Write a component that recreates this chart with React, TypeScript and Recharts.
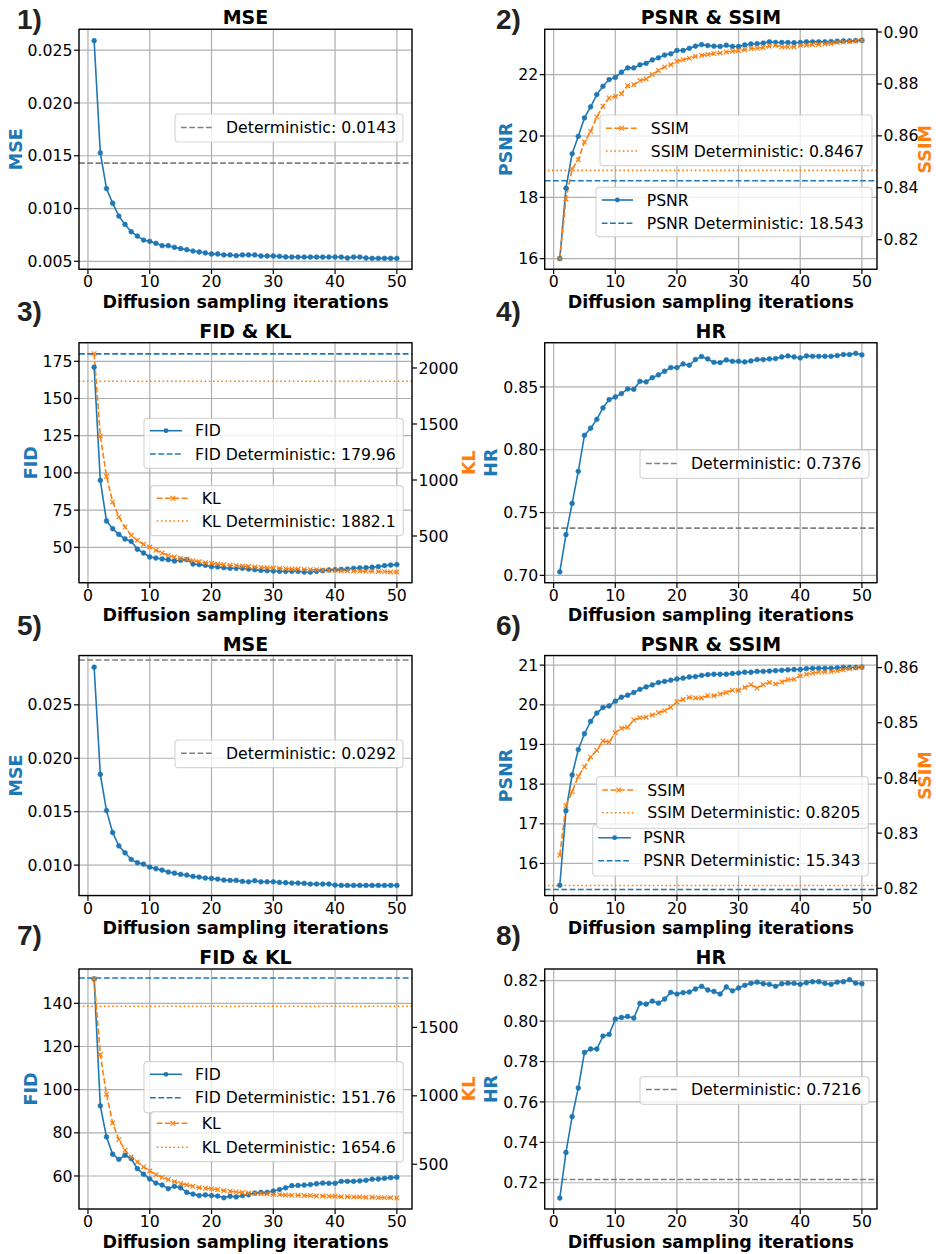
import React from 'react';
import { LineChart, Line, XAxis, YAxis, CartesianGrid, ReferenceLine } from 'recharts';

const BLUE = '#1f77b4';
const ORANGE = '#ff7f0e';
const GRAY = '#808080';
const FONT = '"DejaVu Sans", Verdana, sans-serif';
const DASH = '5.8 2.5';
const DOT = '1.6 2.6';

// x values shared by every panel
const iterations = [1, 2, 3, 4, 5, 6, 7, 8, 9, 10, 11, 12, 13, 14, 15, 16, 17, 18, 19, 20, 21, 22, 23, 24, 25,
  26, 27, 28, 29, 30, 31, 32, 33, 34, 35, 36, 37, 38, 39, 40, 41, 42, 43, 44, 45, 46, 47, 48, 49, 50];
const xTicks = [0, 10, 20, 30, 40, 50];

// 1) MSE
const mse1 = [0.0259, 0.01528, 0.01189, 0.0105, 0.00928, 0.00849, 0.0078, 0.00739, 0.00701, 0.00689,
  0.0067, 0.00648, 0.00648, 0.00632, 0.0062, 0.0061, 0.00597, 0.00588, 0.00579, 0.00569,
  0.00569, 0.0056, 0.0056, 0.00553, 0.0056, 0.0056, 0.0056, 0.0055, 0.0055, 0.0055,
  0.00547, 0.00541, 0.0054, 0.0054, 0.0054, 0.0054, 0.0054, 0.0054, 0.0054, 0.0054,
  0.0054, 0.00531, 0.0054, 0.0054, 0.00531, 0.00528, 0.00528, 0.00528, 0.00528, 0.00528];
const mseDet1 = 0.0143;

// 2) PSNR & SSIM
const psnr2 = [16.0, 18.3, 19.42, 19.99, 20.59, 20.95, 21.35, 21.62, 21.84, 21.91,
  22.08, 22.22, 22.22, 22.32, 22.37, 22.48, 22.55, 22.64, 22.68, 22.79,
  22.79, 22.86, 22.93, 22.98, 22.95, 22.93, 22.92, 22.96, 22.92, 22.92,
  22.97, 23.0, 23.01, 23.03, 23.07, 23.05, 23.05, 23.05, 23.04, 23.05,
  23.07, 23.07, 23.07, 23.07, 23.08, 23.09, 23.1, 23.1, 23.11, 23.12];
const ssim2 = [0.8127, 0.8357, 0.8472, 0.8508, 0.8576, 0.8617, 0.8673, 0.8714, 0.8746, 0.8752,
  0.8762, 0.8793, 0.8797, 0.8813, 0.8819, 0.8836, 0.8852, 0.8865, 0.8874, 0.8887,
  0.8893, 0.8899, 0.8906, 0.891, 0.8913, 0.8917, 0.8919, 0.8923, 0.8926, 0.8928,
  0.8932, 0.8936, 0.8937, 0.894, 0.8945, 0.8949, 0.8942, 0.8942, 0.8942, 0.8949,
  0.8949, 0.8951, 0.8952, 0.8954, 0.8956, 0.896, 0.8961, 0.8964, 0.8965, 0.8968];
const psnrDet2 = 18.543;
const ssimDet2 = 0.8467;

// 3) FID & KL
const fid3 = [171, 95, 67.7, 62.5, 58.7, 55.6, 54.0, 48.7, 46.2, 43.5,
  42.8, 42.2, 41.7, 40.8, 41.3, 41.7, 38.8, 38.4, 37.9, 37.0,
  36.8, 36.3, 35.9, 35.9, 35.9, 35.4, 35.0, 34.5, 34.3, 34.1,
  33.9, 33.9, 33.9, 33.9, 33.4, 33.4, 33.9, 34.3, 34.8, 35.0,
  35.2, 35.4, 35.9, 36.1, 36.3, 36.6, 37.0, 37.7, 38.1, 38.4];
const kl3 = [2128, 1393, 1033, 804, 670, 580, 506, 461, 426, 402,
  372, 348, 327, 312, 301, 292, 280, 271, 262, 256,
  250, 244, 238, 235, 232, 229, 223, 220, 217, 214,
  211, 208, 205, 205, 202, 199, 199, 196, 193, 193,
  190, 190, 187, 187, 184, 184, 182, 182, 179, 179];
const fidDet3 = 179.96;
const klDet3 = 1882.1;

// 4) HR
const hr4 = [0.7027, 0.7324, 0.7573, 0.7828, 0.8115, 0.8171, 0.8242, 0.8333, 0.8399, 0.842,
  0.8447, 0.8484, 0.8481, 0.8545, 0.854, 0.8574, 0.8596, 0.8625, 0.8654, 0.8654,
  0.8683, 0.8673, 0.8718, 0.8742, 0.8723, 0.8696, 0.8694, 0.8715, 0.8704, 0.8704,
  0.8699, 0.8707, 0.8718, 0.8718, 0.8723, 0.8726, 0.8739, 0.8747, 0.8739, 0.8731,
  0.8747, 0.8744, 0.8744, 0.8744, 0.8744, 0.875, 0.8758, 0.8758, 0.8768, 0.8755];
const hrDet4 = 0.7376;

// 5) MSE
const mse5 = [0.02852, 0.0185, 0.0151, 0.01305, 0.0118, 0.01115, 0.01053, 0.01022, 0.01009, 0.00981,
  0.00966, 0.00953, 0.00935, 0.00925, 0.00913, 0.00907, 0.00894, 0.00888, 0.00879, 0.00875,
  0.00869, 0.0086, 0.00857, 0.00857, 0.00847, 0.00844, 0.00854, 0.00844, 0.00844, 0.00844,
  0.00838, 0.00835, 0.00832, 0.00832, 0.00829, 0.00823, 0.00823, 0.00823, 0.00823, 0.00813,
  0.0081, 0.0081, 0.0081, 0.0081, 0.0081, 0.0081, 0.0081, 0.0081, 0.0081, 0.0081];
const mseDet5 = 0.0292;

// 6) PSNR & SSIM
const psnr6 = [15.45, 17.33, 18.23, 18.87, 19.27, 19.58, 19.79, 19.93, 19.97, 20.09,
  20.19, 20.24, 20.31, 20.39, 20.45, 20.5, 20.56, 20.59, 20.62, 20.65,
  20.67, 20.7, 20.71, 20.74, 20.76, 20.77, 20.77, 20.77, 20.79, 20.8,
  20.82, 20.82, 20.84, 20.84, 20.85, 20.86, 20.87, 20.88, 20.89, 20.89,
  20.91, 20.92, 20.92, 20.92, 20.92, 20.93, 20.94, 20.94, 20.94, 20.95];
const ssim6 = [0.826, 0.835, 0.8375, 0.8403, 0.842, 0.8438, 0.845, 0.8467, 0.8465, 0.8482,
  0.849, 0.8492, 0.8505, 0.8509, 0.851, 0.8514, 0.8518, 0.8522, 0.8528, 0.8538,
  0.8542, 0.8546, 0.8545, 0.8545, 0.8549, 0.8549, 0.8552, 0.8555, 0.8559, 0.8559,
  0.8564, 0.8569, 0.8563, 0.8569, 0.8573, 0.857, 0.8574, 0.8578, 0.8579, 0.8585,
  0.8588, 0.859, 0.8592, 0.8592, 0.8593, 0.8594, 0.8596, 0.8598, 0.8599, 0.8601];
const psnrDet6 = 15.343;
const ssimDet6 = 0.8205;

// 7) FID & KL
const fid7 = [151.3, 92.5, 78.1, 70.1, 67.7, 69.6, 68.0, 63.4, 60.8, 58.6,
  56.7, 55.8, 54.1, 55.2, 54.5, 52.4, 51.6, 50.9, 51.2, 50.9,
  50.7, 49.9, 50.6, 50.3, 50.9, 51.3, 52.1, 52.4, 52.4, 53.0,
  53.7, 54.5, 55.5, 55.6, 55.8, 56.0, 56.4, 56.7, 56.6, 56.6,
  57.5, 57.5, 57.5, 57.7, 58.0, 58.5, 58.6, 58.9, 59.2, 59.4];
const kl7 = [1854, 1302, 1012, 802, 680, 602, 554, 517, 480, 451,
  424, 405, 388, 373, 359, 349, 339, 329, 324, 320,
  315, 307, 302, 298, 293, 290, 288, 285, 283, 280,
  278, 276, 273, 273, 271, 271, 268, 268, 266, 266,
  263, 263, 261, 261, 259, 259, 256, 256, 256, 254];
const fidDet7 = 151.76;
const klDet7 = 1654.6;

// 8) HR
const hr8 = [0.7124, 0.735, 0.7527, 0.7669, 0.7845, 0.7862, 0.7862, 0.7926, 0.7934, 0.801,
  0.8018, 0.8023, 0.8015, 0.8088, 0.8084, 0.8099, 0.8089, 0.8109, 0.8142, 0.8134,
  0.8141, 0.8144, 0.8159, 0.8172, 0.8154, 0.8147, 0.8134, 0.8169, 0.815, 0.8164,
  0.8177, 0.8187, 0.8193, 0.8185, 0.8182, 0.8172, 0.8185, 0.8188, 0.8187, 0.8182,
  0.819, 0.8195, 0.8195, 0.8187, 0.8182, 0.8193, 0.8195, 0.8205, 0.8188, 0.8185];
const hrDet8 = 0.7216;

const table = (a: number[], b?: number[]) =>
  iterations.map((it, i) => (b ? { it, a: a[i], b: b[i] } : { it, a: a[i] }));

const fmt3 = (v: number) => v.toFixed(3);
const fmt2 = (v: number) => v.toFixed(2);
const fmt0 = (v: number) => String(v);

// layout (page pixels)
const COLS = [
  { chartLeft: 0, plotLeft: 79, plotRight: 412, num: 17 },
  { chartLeft: 468, plotLeft: 544.7, plotRight: 877, num: 496 },
];
const ROW_TOPS = [29.3, 342.7, 655.5, 969];
const NUM_BASE = [29, 321, 635, 945];
const PLOT_H = 240;
const CHART_W = 468;
const X_DOMAIN: [number, number] = [-1.45, 52.45];

type Series = { key: string; axis: 'l' | 'r'; color: string; marker: 'o' | 'x'; dash?: string };
type Ref = { y: number; axis: 'l' | 'r'; color: string; dash: string };
type Entry = { label: string; color: string; dash?: string; marker?: 'o' | 'x' };
type LegendBox = { x: number; y: number; w: number; h: number; lineX: [number, number]; textX: number; rowsY: number[]; entries: Entry[] };
type PanelDef = {
  col: number; row: number; num: string; title: string;
  data: any[]; series: Series[]; refs: Ref[];
  lDomain: [number, number]; lTicks: number[]; lFmt: (v: number) => string;
  rDomain?: [number, number]; rTicks?: number[]; rFmt?: (v: number) => string;
  yLabel: string; yLabelX: number; rLabel?: string; rLabelX?: number;
  legends: LegendBox[];
};

const psnrSeries: Series[] = [
  { key: 'a', axis: 'l', color: BLUE, marker: 'o' },
  { key: 'b', axis: 'r', color: ORANGE, marker: 'x', dash: DASH },
];

const panels: PanelDef[] = [
  {
    col: 0, row: 0, num: '1)', title: 'MSE', data: table(mse1),
    series: [{ key: 'a', axis: 'l', color: BLUE, marker: 'o' }],
    refs: [{ y: mseDet1, axis: 'l', color: GRAY, dash: DASH }],
    lDomain: [0.00427, 0.02701], lTicks: [0.005, 0.01, 0.015, 0.02, 0.025], lFmt: fmt3,
    yLabel: 'MSE', yLabelX: 21.7,
    legends: [{ x: 175, y: 114, w: 228, h: 28, lineX: [181, 213], textX: 226, rowsY: [127.5],
      entries: [{ label: `Deterministic: ${mseDet1}`, color: GRAY, dash: DASH }] }],
  },
  {
    col: 1, row: 0, num: '2)', title: 'PSNR & SSIM', data: table(psnr2, ssim2), series: psnrSeries,
    refs: [{ y: psnrDet2, axis: 'l', color: BLUE, dash: DASH }, { y: ssimDet2, axis: 'r', color: ORANGE, dash: DOT }],
    lDomain: [15.663, 23.489], lTicks: [16, 18, 20, 22], lFmt: fmt0,
    rDomain: [0.8087, 0.90116], rTicks: [0.82, 0.84, 0.86, 0.88, 0.9], rFmt: fmt2,
    yLabel: 'PSNR', yLabelX: 511.7, rLabel: 'SSIM', rLabelX: 931,
    legends: [
      { x: 596, y: 187.3, w: 276, h: 49.4, lineX: [601.7, 633], textX: 646.7, rowsY: [200, 223.3],
        entries: [{ label: 'PSNR', color: BLUE, marker: 'o' }, { label: `PSNR Deterministic: ${psnrDet2}`, color: BLUE, dash: DASH }] },
      { x: 600, y: 115, w: 272, h: 50.7, lineX: [606, 637], textX: 650.7, rowsY: [128.3, 151],
        entries: [{ label: 'SSIM', color: ORANGE, dash: DASH, marker: 'x' }, { label: `SSIM Deterministic: ${ssimDet2}`, color: ORANGE, dash: DOT }] },
    ],
  },
  {
    col: 0, row: 1, num: '3)', title: 'FID & KL', data: table(fid3, kl3), series: psnrSeries,
    refs: [{ y: fidDet3, axis: 'l', color: BLUE, dash: DASH }, { y: klDet3, axis: 'r', color: ORANGE, dash: DOT }],
    lDomain: [26.03, 187.3], lTicks: [50, 75, 100, 125, 150, 175], lFmt: fmt0,
    rDomain: [80.4, 2223], rTicks: [500, 1000, 1500, 2000], rFmt: fmt0,
    yLabel: 'FID', yLabelX: 36.7, rLabel: 'KL', rLabelX: 475.3,
    legends: [
      { x: 144, y: 418.3, w: 259.3, h: 50, lineX: [150, 182], textX: 195, rowsY: [430.7, 454],
        entries: [{ label: 'FID', color: BLUE, marker: 'o' }, { label: `FID Deterministic: ${fidDet3}`, color: BLUE, dash: DASH }] },
      { x: 150.7, y: 485.7, w: 252.6, h: 50, lineX: [156.7, 189], textX: 201.7, rowsY: [498.3, 521],
        entries: [{ label: 'KL', color: ORANGE, dash: DASH, marker: 'x' }, { label: `KL Deterministic: ${klDet3}`, color: ORANGE, dash: DOT }] },
    ],
  },
  {
    col: 1, row: 1, num: '4)', title: 'HR', data: table(hr4),
    series: [{ key: 'a', axis: 'l', color: BLUE, marker: 'o' }],
    refs: [{ y: hrDet4, axis: 'l', color: GRAY, dash: DASH }],
    lDomain: [0.6939, 0.885], lTicks: [0.7, 0.75, 0.8, 0.85], lFmt: fmt2,
    yLabel: 'HR', yLabelX: 496.5,
    legends: [{ x: 640, y: 450, w: 229, h: 28.3, lineX: [646, 678.3], textX: 691, rowsY: [463.5],
      entries: [{ label: `Deterministic: ${hrDet4}`, color: GRAY, dash: DASH }] }],
  },
  {
    col: 0, row: 2, num: '5)', title: 'MSE', data: table(mse5),
    series: [{ key: 'a', axis: 'l', color: BLUE, marker: 'o' }],
    refs: [{ y: mseDet5, axis: 'l', color: GRAY, dash: DASH }],
    lDomain: [0.00711, 0.02957], lTicks: [0.01, 0.015, 0.02, 0.025], lFmt: fmt3,
    yLabel: 'MSE', yLabelX: 21.7,
    legends: [{ x: 175, y: 740, w: 228, h: 27.7, lineX: [181, 213], textX: 226, rowsY: [753.3],
      entries: [{ label: `Deterministic: ${mseDet5}`, color: GRAY, dash: DASH }] }],
  },
  {
    col: 1, row: 2, num: '6)', title: 'PSNR & SSIM', data: table(psnr6, ssim6), series: psnrSeries,
    refs: [{ y: psnrDet6, axis: 'l', color: BLUE, dash: DASH }, { y: ssimDet6, axis: 'r', color: ORANGE, dash: DOT }],
    lDomain: [15.18, 21.23], lTicks: [16, 17, 18, 19, 20, 21], lFmt: fmt0,
    rDomain: [0.8186, 0.8621], rTicks: [0.82, 0.83, 0.84, 0.85, 0.86], rFmt: fmt2,
    yLabel: 'PSNR', yLabelX: 511.7, rLabel: 'SSIM', rLabelX: 931,
    legends: [
      { x: 592.7, y: 825, w: 275.6, h: 51, lineX: [598.3, 631], textX: 643.3, rowsY: [837.7, 860.7],
        entries: [{ label: 'PSNR', color: BLUE, marker: 'o' }, { label: `PSNR Deterministic: ${psnrDet6}`, color: BLUE, dash: DASH }] },
      { x: 596.7, y: 776.7, w: 271.6, h: 51.6, lineX: [602.3, 635], textX: 647.3, rowsY: [790, 812.7],
        entries: [{ label: 'SSIM', color: ORANGE, dash: DASH, marker: 'x' }, { label: `SSIM Deterministic: ${ssimDet6}`, color: ORANGE, dash: DOT }] },
    ],
  },
  {
    col: 0, row: 3, num: '7)', title: 'FID & KL', data: table(fid7, kl7), series: psnrSeries,
    refs: [{ y: fidDet7, axis: 'l', color: BLUE, dash: DASH }, { y: klDet7, axis: 'r', color: ORANGE, dash: DOT }],
    lDomain: [44.7, 155.9], lTicks: [60, 80, 100, 120, 140], lFmt: fmt0,
    rDomain: [173, 1927], rTicks: [500, 1000, 1500], rFmt: fmt0,
    yLabel: 'FID', yLabelX: 36.7, rLabel: 'KL', rLabelX: 475.3,
    legends: [
      { x: 144, y: 1061.7, w: 259.3, h: 51, lineX: [150, 182], textX: 195, rowsY: [1074.3, 1097.7],
        entries: [{ label: 'FID', color: BLUE, marker: 'o' }, { label: `FID Deterministic: ${fidDet7}`, color: BLUE, dash: DASH }] },
      { x: 150.7, y: 1111.7, w: 252.6, h: 50, lineX: [156.7, 189], textX: 201.7, rowsY: [1123.3, 1147.3],
        entries: [{ label: 'KL', color: ORANGE, dash: DASH, marker: 'x' }, { label: `KL Deterministic: ${klDet7}`, color: ORANGE, dash: DOT }] },
    ],
  },
  {
    col: 1, row: 3, num: '8)', title: 'HR', data: table(hr8),
    series: [{ key: 'a', axis: 'l', color: BLUE, marker: 'o' }],
    refs: [{ y: hrDet8, axis: 'l', color: GRAY, dash: DASH }],
    lDomain: [0.707, 0.8258], lTicks: [0.72, 0.74, 0.76, 0.78, 0.8, 0.82], lFmt: fmt2,
    yLabel: 'HR', yLabelX: 496.5,
    legends: [{ x: 640, y: 1076.7, w: 229, h: 27.6, lineX: [646, 678.3], textX: 691, rowsY: [1089.5],
      entries: [{ label: `Deterministic: ${hrDet8}`, color: GRAY, dash: DASH }] }],
  },
];

const tickStyle = { fill: '#000', fontSize: 15.7, fontFamily: FONT };
const tickLine = { stroke: '#000', strokeWidth: 1.2 };

const xMark = (color: string) => (p: any) => {
  const { cx, cy, index } = p;
  if (cx == null || cy == null) return <g key={`x-${index}`} />;
  const s = 2.3;
  return (
    <path key={`x-${index}`} d={`M${cx - s},${cy - s}L${cx + s},${cy + s}M${cx - s},${cy + s}L${cx + s},${cy - s}`}
      stroke={color} strokeWidth={1.2} fill="none" />
  );
};

function Panel({ def }: { def: PanelDef }) {
  const c = COLS[def.col];
  const plotTop = ROW_TOPS[def.row];
  const leftW = c.plotLeft - c.chartLeft;
  const rightW = c.chartLeft + CHART_W - c.plotRight;
  const hasRight = !!def.rDomain;
  const H = 30 + PLOT_H + 40;
  return (
    <div style={{ position: 'absolute', left: c.chartLeft, top: plotTop - 30, width: CHART_W, height: H }}>
      <LineChart width={CHART_W} height={H} data={def.data}
        margin={{ top: 30, right: hasRight ? 0 : rightW, bottom: 10, left: 0 }}>
        <CartesianGrid yAxisId="l" stroke="#b0b0b0" strokeWidth={1.2} />
        <XAxis dataKey="it" type="number" domain={X_DOMAIN} ticks={xTicks} allowDataOverflow interval={0}
          height={30} tickSize={5} tickMargin={2} axisLine={false} tickLine={tickLine} tick={tickStyle} />
        <YAxis yAxisId="l" type="number" width={leftW} domain={def.lDomain} ticks={def.lTicks} allowDataOverflow
          interval={0} tickFormatter={def.lFmt} tickSize={5} tickMargin={1.5} axisLine={false} tickLine={tickLine} tick={tickStyle} />
        {hasRight && (
          <YAxis yAxisId="r" orientation="right" type="number" width={rightW} domain={def.rDomain} ticks={def.rTicks}
            allowDataOverflow interval={0} tickFormatter={def.rFmt} tickSize={5} tickMargin={1.5}
            axisLine={false} tickLine={tickLine} tick={tickStyle} />
        )}
        {def.refs.map((r, i) => (
          <ReferenceLine key={`ref-${i}`} yAxisId={r.axis} y={r.y} stroke={r.color} strokeWidth={1.6} strokeDasharray={r.dash} />
        ))}
        {def.series.map((s) => (
          <Line key={s.key} yAxisId={s.axis} dataKey={s.key} type="linear" stroke={s.color} strokeWidth={1.6}
            strokeDasharray={s.dash}
            dot={s.marker === 'o' ? { r: 2.4, fill: s.color, stroke: s.color, strokeWidth: 0.6 } : xMark(s.color)}
            activeDot={false} isAnimationActive={false} />
        ))}
      </LineChart>
    </div>
  );
}

function LegendSample({ e, x0, x1, y }: { e: Entry; x0: number; x1: number; y: number }) {
  const cx = (x0 + x1) / 2;
  return (
    <g>
      <line x1={x0} x2={x1} y1={y} y2={y} stroke={e.color} strokeWidth={1.6} strokeDasharray={e.dash} />
      {e.marker === 'o' && <circle cx={cx} cy={y} r={2.4} fill={e.color} />}
      {e.marker === 'x' && (
        <path d={`M${cx - 2.3},${y - 2.3}L${cx + 2.3},${y + 2.3}M${cx - 2.3},${y + 2.3}L${cx + 2.3},${y - 2.3}`}
          stroke={e.color} strokeWidth={1.2} />
      )}
    </g>
  );
}

function Overlay() {
  return (
    <svg width={936} height={1254} style={{ position: 'absolute', left: 0, top: 0, pointerEvents: 'none' }}>
      {panels.map((p, pi) => {
        const c = COLS[p.col];
        const top = ROW_TOPS[p.row];
        const cx = (c.plotLeft + c.plotRight) / 2;
        const cy = top + PLOT_H / 2;
        return (
          <g key={pi}>
            <rect x={c.plotLeft} y={top} width={c.plotRight - c.plotLeft} height={PLOT_H}
              fill="none" stroke="#000" strokeWidth={1.3} />
            <text x={c.num} y={NUM_BASE[p.row]} fontFamily='"Liberation Sans", Arial, sans-serif'
              fontWeight="bold" fontSize={28} fill="#222">{p.num}</text>
            <text x={cx} y={top - 5} textAnchor="middle" fontFamily={FONT} fontWeight="bold" fontSize={19} fill="#000">
              {p.title}
            </text>
            <text x={cx} y={top + PLOT_H + 38.5} textAnchor="middle" fontFamily={FONT} fontWeight="bold"
              fontSize={17.5} fill="#000">Diffusion sampling iterations</text>
            <text transform={`translate(${p.yLabelX},${cy}) rotate(-90)`} textAnchor="middle" fontFamily={FONT}
              fontWeight="bold" fontSize={17.5} fill={BLUE}>{p.yLabel}</text>
            {p.rLabel && (
              <text transform={`translate(${p.rLabelX},${cy}) rotate(-90)`} textAnchor="middle" fontFamily={FONT}
                fontWeight="bold" fontSize={17.5} fill={ORANGE}>{p.rLabel}</text>
            )}
            {p.legends.map((lg, li) => (
              <g key={li}>
                <rect x={lg.x} y={lg.y} width={lg.w} height={lg.h} rx={3.5} fill="#fff" fillOpacity={0.8}
                  stroke="#cccccc" strokeOpacity={0.8} strokeWidth={1.2} />
                {lg.entries.map((e, ei) => (
                  <g key={ei}>
                    <LegendSample e={e} x0={lg.lineX[0]} x1={lg.lineX[1]} y={lg.rowsY[ei]} />
                    <text x={lg.textX} y={lg.rowsY[ei] + 5.5} fontFamily={FONT} fontSize={15.7} fill="#000">{e.label}</text>
                  </g>
                ))}
              </g>
            ))}
          </g>
        );
      })}
    </svg>
  );
}

export default function App() {
  return (
    <div style={{ position: 'absolute', left: 0, top: 0, width: 936, height: 1254, background: '#fff', overflow: 'hidden' }}>
      {panels.map((p, i) => <Panel key={i} def={p} />)}
      <Overlay />
    </div>
  );
}
